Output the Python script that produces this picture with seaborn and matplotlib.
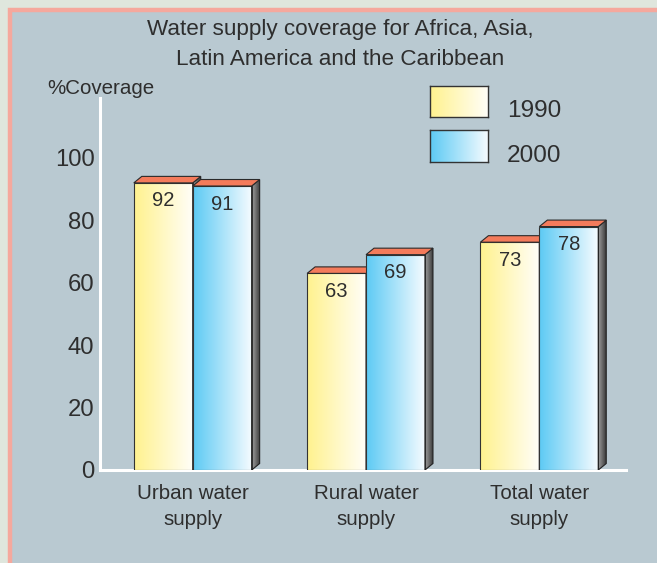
import numpy as np
import pandas as pd
import matplotlib
matplotlib.use("Agg")
import matplotlib.pyplot as plt
from matplotlib.colors import LinearSegmentedColormap
from matplotlib.patches import Polygon, Rectangle
import seaborn as sns

# ---- data ----
categories = ["Urban water\nsupply", "Rural water\nsupply", "Total water\nsupply"]
years = ["1990", "2000"]
values_1990 = [92, 63, 73]
values_2000 = [91, 69, 78]
yticks = [0, 20, 40, 60, 80, 100]

df = pd.DataFrame({
    "category": categories * 2,
    "year": [years[0]] * 3 + [years[1]] * 3,
    "coverage": values_1990 + values_2000,
})

sns.set_theme(style="white")
plt.rcParams["font.family"] = ["Liberation Sans", "DejaVu Sans"]

TXT = "#2e2e2e"
PANEL = "#b9c9d1"
grads = {"1990": ("#fff28e", "#fffef8"), "2000": ("#5ccaf4", "#f5fbff")}

fig = plt.figure(figsize=(6.57, 5.63), dpi=100)
fig.patch.set_facecolor("#dfe6dd")
# framed panel
fig.patches.append(Rectangle((10 / 657, -0.05), 1.2, (563 - 10) / 563 + 0.05,
                             transform=fig.transFigure, facecolor=PANEL,
                             edgecolor="#f5a89d", linewidth=3.2, zorder=-10))

ax = fig.add_axes([100 / 657, (563 - 470) / 563, (626 - 100) / 657, (470 - 98) / 563])
ax.set_facecolor("none")

sns.barplot(data=df, x="category", y="coverage", hue="year", hue_order=years,
            order=categories, width=0.68, palette=[grads[y][0] for y in years],
            edgecolor="#333333", linewidth=0.8, legend=False, ax=ax)

xlim = (-0.535, 2.5)
ylim = (0, 119.2)

# data units per pixel for 3D depth
px_x = (xlim[1] - xlim[0]) / (626 - 100)
px_y = (ylim[1] - ylim[0]) / (470 - 98)
dx, dy = 8 * px_x, 6.5 * px_y

bars = list(ax.patches)
gvec = np.linspace(0, 1, 256).reshape(1, -1)
for i, p in enumerate(bars):
    yr = years[i // 3]
    z = 3 + 2 * (i // 3)
    x, w, h = p.get_x(), p.get_width(), p.get_height()
    cmap = LinearSegmentedColormap.from_list("g" + yr, list(grads[yr]))
    im = ax.imshow(gvec, extent=[x, x + w, 0, h], aspect="auto", cmap=cmap,
                   zorder=z, interpolation="bilinear")
    im.set_clip_path(p)
    p.set_facecolor("none")
    p.set_zorder(z + 0.2)
    # side face
    side = Polygon([(x + w, 0), (x + w, h), (x + w + dx, h + dy), (x + w + dx, dy)],
                   closed=True, facecolor="none", edgecolor="#222222", lw=0.8, zorder=z + 0.2)
    ax.add_patch(side)
    sim = ax.imshow(gvec, extent=[x + w, x + w + dx, 0, h + dy], aspect="auto",
                    cmap=LinearSegmentedColormap.from_list("s", ["#a0a0a0", "#3c3c3c"]),
                    zorder=z + 0.1, interpolation="bilinear")
    sim.set_clip_path(side)
    # top face
    top = Polygon([(x, h), (x + dx, h + dy), (x + w + dx, h + dy), (x + w, h)],
                  closed=True, facecolor="#f47b5b", edgecolor="#2a2a2a", lw=0.8, zorder=z + 0.3)
    ax.add_patch(top)
    ax.text(x + w / 2, h - 18 * px_y, f"{h:g}", ha="center", va="center",
            fontsize=14.5, color=TXT, zorder=z + 0.5)

ax.set_xlim(*xlim)
ax.set_ylim(*ylim)
ax.set_yticks(yticks)
ax.set_xlabel("")
ax.set_ylabel("")
for s in ["top", "right"]:
    ax.spines[s].set_visible(False)
for s in ["left", "bottom"]:
    ax.spines[s].set_color("white")
    ax.spines[s].set_linewidth(2.2)
    ax.spines[s].set_zorder(2)
ax.tick_params(axis="y", length=0, pad=4, labelsize=17.2, labelcolor=TXT)
ax.tick_params(axis="x", length=0, pad=10, labelsize=14.8, labelcolor=TXT)
for t in ax.get_xticklabels():
    t.set_linespacing(1.45)

# title and y label
fig.text(340 / 657, 1 - 44.5 / 563,
         "Water supply coverage for Africa, Asia,\nLatin America and the Caribbean",
         ha="center", va="center", fontsize=16.2, color=TXT, linespacing=1.55)
fig.text(47 / 657, 1 - 88 / 563, "%Coverage", ha="left", va="center",
         fontsize=14.8, color=TXT)

# legend keys
boxes = [(86, 117), (130, 162)]
for yr, (t, b) in zip(years, boxes):
    lax = fig.add_axes([430 / 657, 1 - b / 563, 58 / 657, (b - t) / 563])
    lax.imshow(gvec, aspect="auto",
               cmap=LinearSegmentedColormap.from_list("l" + yr, list(grads[yr])),
               interpolation="bilinear")
    lax.set_xticks([])
    lax.set_yticks([])
    for s in lax.spines.values():
        s.set_color("#333333")
        s.set_linewidth(1.0)
    fig.text(507 / 657, 1 - (b - 6) / 563, yr, ha="left", va="center",
             fontsize=17.6, color=TXT)

fig.savefig("out.png", dpi=100, facecolor=fig.get_facecolor())
